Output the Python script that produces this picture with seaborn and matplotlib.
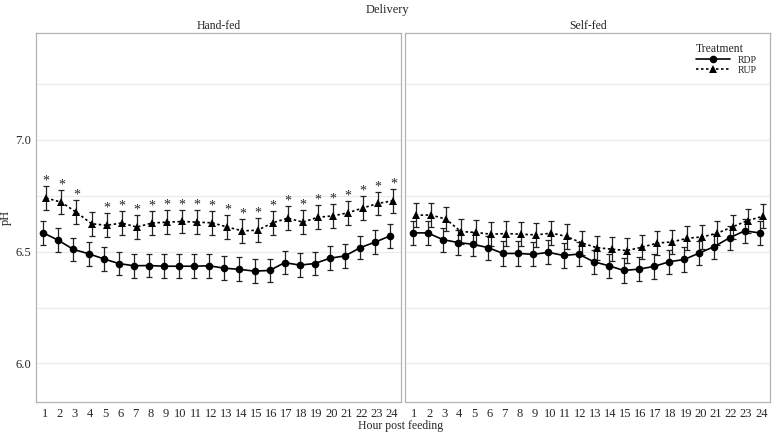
import numpy as np
import pandas as pd
import seaborn as sns
import matplotlib
matplotlib.use("Agg")
import matplotlib.pyplot as plt

# data
hours = list(range(1, 25))
hand_rdp = [6.584, 6.551, 6.510, 6.491, 6.468, 6.447, 6.437, 6.438, 6.435, 6.435, 6.435, 6.437,
            6.426, 6.421, 6.413, 6.416, 6.451, 6.440, 6.447, 6.471, 6.481, 6.518, 6.543, 6.571]
hand_rup = [6.740, 6.721, 6.676, 6.625, 6.618, 6.628, 6.610, 6.628, 6.632, 6.635, 6.632, 6.629,
            6.610, 6.593, 6.596, 6.629, 6.650, 6.632, 6.654, 6.660, 6.674, 6.696, 6.716, 6.728]
self_rdp = [6.584, 6.584, 6.554, 6.541, 6.533, 6.518, 6.492, 6.492, 6.488, 6.497, 6.483, 6.489,
            6.455, 6.437, 6.416, 6.422, 6.434, 6.455, 6.465, 6.494, 6.523, 6.562, 6.593, 6.584]
self_rup = [6.663, 6.664, 6.646, 6.590, 6.586, 6.578, 6.581, 6.578, 6.575, 6.583, 6.568, 6.539,
            6.518, 6.511, 6.505, 6.520, 6.538, 6.544, 6.560, 6.566, 6.583, 6.611, 6.639, 6.658]
se_hand = 0.053
se_self = 0.054
sig_hours_hand = [1, 2, 3, 5, 6, 7, 8, 9, 10, 11, 12, 13, 14, 15, 16, 17, 18, 19, 20, 21, 22, 23, 24]
treatments = ["RDP", "RUP"]
deliveries = ["Hand-fed", "Self-fed"]

rows = []
for d, rdp, rup, se in [("Hand-fed", hand_rdp, hand_rup, se_hand), ("Self-fed", self_rdp, self_rup, se_self)]:
    for t, vals, off in [("RDP", rdp, -0.1), ("RUP", rup, 0.1)]:
        for h, v in zip(hours, vals):
            rows.append({"Delivery": d, "Treatment": t, "hour": h, "x": h + off, "pH": v, "se": se})
df = pd.DataFrame(rows)

sns.set_style("white")
plt.rcParams["font.family"] = ["Liberation Serif", "DejaVu Serif"]

fig = plt.figure(figsize=(7.74, 4.34), dpi=100)
axes = [fig.add_axes([0.0461, 0.0744, 0.4719, 0.8496]),
        fig.add_axes([0.5233, 0.0744, 0.4719, 0.8496])]

for ax, d in zip(axes, deliveries):
    sub = df[df.Delivery == d]
    ax.errorbar(sub.x, sub.pH, yerr=sub.se, fmt="none", ecolor="#222222",
                elinewidth=0.9, capsize=2, capthick=0.9, zorder=2)
    sns.lineplot(data=sub, x="x", y="pH", style="Treatment", style_order=treatments,
                 markers={"RDP": "o", "RUP": "^"}, dashes={"RDP": "", "RUP": (1.5, 1.5)},
                 color="black", linewidth=1.2, markersize=5.5, markeredgewidth=0,
                 ax=ax, legend=(d == "Self-fed"), zorder=3)
    ax.set_xlim(0.4, 24.6)
    ax.set_ylim(5.829, 7.478)
    ax.set_xticks(hours)
    ax.set_xticklabels([str(h) for h in hours], fontsize=9)
    ax.set_yticks([6.0, 6.5, 7.0])
    for yy in [6.0, 6.25, 6.5, 6.75, 7.0, 7.25]:
        ax.axhline(yy, color="#ebebeb", lw=0.8, zorder=0)
    for s in ax.spines.values():
        s.set_color("#b3b3b3")
        s.set_linewidth(0.9)
    ax.tick_params(axis="x", length=2.5, width=0.6, color="#333333", pad=2)
    ax.tick_params(axis="y", length=2.5, width=0.6, color="#333333", pad=1, labelsize=9)
    ax.set_xlabel("")
    ax.set_ylabel("")
    ax.set_title(d, fontsize=8.5, pad=3)

axes[0].set_ylabel("pH", fontsize=9, labelpad=2)
axes[1].set_yticklabels([])
axes[1].tick_params(axis="y", length=0)

# significance stars
hf = df[(df.Delivery == "Hand-fed") & (df.Treatment == "RUP")].set_index("hour")
for h in sig_hours_hand:
    axes[0].text(hf.loc[h, "x"], hf.loc[h, "pH"] + hf.loc[h, "se"] + 0.022, "*",
                 ha="center", va="center", fontsize=10)

leg = axes[1].legend(title="Treatment", loc="upper right", bbox_to_anchor=(0.985, 0.995),
                     frameon=False, fontsize=7, title_fontsize=8.5, handlelength=3.5,
                     labelspacing=0.1, borderpad=0.3)
leg._legend_box.align = "left"

fig.text(0.5, 0.978, "Delivery", ha="center", va="center", fontsize=9)
fig.text(0.518, 0.018, "Hour post feeding", ha="center", va="center", fontsize=8.5)

fig.savefig("out.png", dpi=100)
